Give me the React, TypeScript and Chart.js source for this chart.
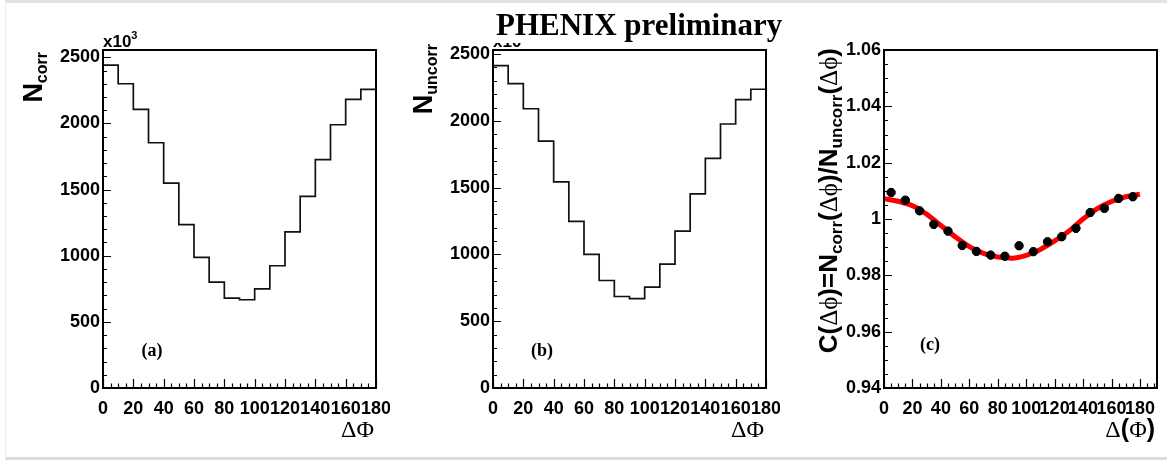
import React, { useEffect, useRef } from "react";
import { Chart, registerables } from "chart.js";
Chart.register(...registerables);

// ---------- data ----------
const binWidth = 10;
const nCorr = [2441, 2300, 2106, 1854, 1548, 1235, 987, 800, 679, 667, 750, 924, 1180, 1449, 1727, 1990, 2182, 2258];
const nUncorr = [2414, 2279, 2091, 1849, 1544, 1247, 1000, 805, 685, 670, 755, 927, 1175, 1454, 1720, 1977, 2159, 2237];

const ratioX = [5, 15, 25, 35, 45, 55, 65, 75, 85, 95, 105, 115, 125, 135, 145, 155, 165, 175];
const ratioY = [1.0094, 1.0067, 1.0029, 0.9981, 0.9957, 0.9906, 0.9885, 0.9872, 0.9868, 0.9905, 0.9884, 0.9919, 0.9937, 0.9967, 1.0023, 1.0038, 1.0073, 1.0079];
const ratioErr = [0.0012, 0.0012, 0.0012, 0.0012, 0.0012, 0.0012, 0.0012, 0.0012, 0.0012, 0.0012, 0.0012, 0.0012, 0.0012, 0.0012, 0.0012, 0.0012, 0.0012, 0.0012];

const fitX = [0, 10, 20, 30, 40, 50, 60, 70, 80, 90, 100, 110, 120, 130, 140, 150, 160, 170, 180];
const fitY = [1.0072, 1.0063, 1.0047, 1.0017, 0.9977, 0.9937, 0.9902, 0.9878, 0.9865, 0.9861, 0.9871, 0.9892, 0.9922, 0.9957, 1.0, 1.0037, 1.0062, 1.0079, 1.0088];

const histXTicks = [0, 20, 40, 60, 80, 100, 120, 140, 160, 180];
const histXTickLabels = ["0", "20", "40", "60", "80", "100", "120", "140", "160", "180"];
const histYTicks = [0, 500, 1000, 1500, 2000, 2500];
const histYTickLabels = ["0", "500", "1000", "1500", "2000", "2500"];
const ratioYTicks = [0.94, 0.96, 0.98, 1.0, 1.02, 1.04, 1.06];
const ratioYTickLabels = ["0.94", "0.96", "0.98", "1", "1.02", "1.04", "1.06"];

// ---------- helpers ----------
const B = (px: number) => `bold ${px}px "Liberation Sans", Arial, sans-serif`;
const S = (px: number) => `${px}px "Liberation Serif", "DejaVu Serif", "Times New Roman", serif`;
const SB = (px: number) => `bold ${px}px "Liberation Serif", "Times New Roman", serif`;

type Seg = { t: string; font: string; dy?: number };
function drawRich(ctx: CanvasRenderingContext2D, segs: Seg[], x: number, y: number, align: "left" | "right" | "center", rotate = false) {
  ctx.save();
  ctx.translate(x, y);
  if (rotate) ctx.rotate(-Math.PI / 2);
  const widths = segs.map((s) => {
    ctx.font = s.font;
    return ctx.measureText(s.t).width;
  });
  const total = widths.reduce((a, b) => a + b, 0);
  let cx = align === "right" ? -total : align === "center" ? -total / 2 : 0;
  ctx.textBaseline = "alphabetic";
  ctx.textAlign = "left";
  ctx.fillStyle = "#000";
  segs.forEach((s, i) => {
    ctx.font = s.font;
    ctx.fillText(s.t, cx, s.dy || 0);
    cx += widths[i];
  });
  ctx.restore();
}

type Deco = {
  xMajor: number;
  xMinor: number;
  yMajor: number;
  yMinor: number;
  yTitle: { segs: Seg[]; x: number; y: number };
  xTitle: { segs: Seg[]; x: number; y: number };
  label: { t: string; x: number; y: number };
  exponent?: boolean;
  errors?: { xs: number[]; ys: number[]; es: number[] };
};

function decoPlugin(d: Deco) {
  return {
    id: "deco",
    afterDraw(chart: any) {
      const ctx: CanvasRenderingContext2D = chart.ctx;
      const { left, right, top, bottom } = chart.chartArea;
      const xs = chart.scales.x;
      const ys = chart.scales.y;
      ctx.save();
      if (d.errors) {
        ctx.strokeStyle = "#000";
        ctx.lineWidth = 1.5;
        d.errors.xs.forEach((xv, i) => {
          const px = xs.getPixelForValue(xv);
          const y1 = ys.getPixelForValue(d.errors!.ys[i] - d.errors!.es[i]);
          const y2 = ys.getPixelForValue(d.errors!.ys[i] + d.errors!.es[i]);
          ctx.beginPath();
          ctx.moveTo(px, y1);
          ctx.lineTo(px, y2);
          ctx.moveTo(px - 2, y1);
          ctx.lineTo(px + 2, y1);
          ctx.moveTo(px - 2, y2);
          ctx.lineTo(px + 2, y2);
          ctx.stroke();
        });
      }
      ctx.strokeStyle = "#000";
      ctx.lineWidth = 1.2;
      ctx.beginPath();
      const eps = 1e-9;
      for (let v = xs.min; v <= xs.max + eps; v += d.xMinor) {
        const px = Math.round(xs.getPixelForValue(v)) + 0.5;
        const k = Math.abs(v / d.xMajor - Math.round(v / d.xMajor)) < 1e-6;
        const len = k ? 9 : 4.5;
        ctx.moveTo(px, bottom);
        ctx.lineTo(px, bottom - len);
      }
      for (let v = ys.min; v <= ys.max + eps; v += d.yMinor) {
        const py = Math.round(ys.getPixelForValue(v)) + 0.5;
        const k = Math.abs((v - ys.min) / d.yMajor - Math.round((v - ys.min) / d.yMajor)) < 1e-6;
        const len = k ? 8 : 4;
        ctx.moveTo(left, py);
        ctx.lineTo(left + len, py);
      }
      ctx.stroke();
      ctx.lineWidth = 2;
      ctx.strokeRect(left, top, right - left, bottom - top);
      drawRich(ctx, d.yTitle.segs, d.yTitle.x, d.yTitle.y, "right", true);
      drawRich(ctx, d.xTitle.segs, d.xTitle.x, d.xTitle.y, "right");
      drawRich(ctx, [{ t: d.label.t, font: SB(18) }], d.label.x, d.label.y, "center");
      if (d.exponent) {
        drawRich(ctx, [{ t: "x10", font: B(17) }, { t: "3", font: B(11), dy: -8 }], left, top - 3, "left");
      }
      ctx.restore();
    },
  };
}

const tickFont = { family: '"Liberation Sans", Arial, sans-serif', weight: "bold", size: 18 };

function fixX(s: any) {
  s.height = 72;
  s.paddingLeft = 0;
  s.paddingRight = 0;
}
function fixY(w: number) {
  return (s: any) => {
    s.width = w;
    s.paddingTop = 0;
    s.paddingBottom = 0;
  };
}

function histConfig(values: number[], yMax: number, deco: Deco): any {
  const pts = values.map((v, i) => ({ x: i * binWidth, y: v }));
  pts.push({ x: values.length * binWidth, y: values[values.length - 1] });
  return {
    type: "line",
    data: {
      datasets: [
        {
          data: pts,
          stepped: "before",
          borderColor: "#111",
          borderWidth: 1.7,
          pointRadius: 0,
          fill: false,
        },
      ],
    },
    options: {
      animation: false,
      responsive: false,
      events: [],
      layout: { padding: { top: 50, right: 14, left: 0, bottom: 0 }, autoPadding: false },
      plugins: { legend: { display: false }, tooltip: { enabled: false } },
      scales: {
        x: {
          type: "linear",
          min: 0,
          max: 180,
          grid: { display: false, drawTicks: false },
          border: { display: false },
          afterBuildTicks: (s: any) => {
            s.ticks = histXTicks.map((v) => ({ value: v }));
          },
          afterFit: fixX,
          ticks: {
            autoSkip: false,
            maxRotation: 0,
            minRotation: 0,
            padding: 10,
            color: "#000",
            font: tickFont,
            callback: (v: number) => histXTickLabels[histXTicks.indexOf(v)] ?? "",
          },
        },
        y: {
          type: "linear",
          min: 0,
          max: yMax,
          grid: { display: false, drawTicks: false },
          border: { display: false },
          afterBuildTicks: (s: any) => {
            s.ticks = histYTicks.map((v) => ({ value: v }));
          },
          afterFit: fixY(103),
          ticks: {
            autoSkip: false,
            padding: 3,
            color: "#000",
            font: tickFont,
            callback: (v: number) => histYTickLabels[histYTicks.indexOf(v)] ?? "",
          },
        },
      },
    },
    plugins: [decoPlugin(deco)],
  };
}

function ratioConfig(deco: Deco): any {
  return {
    type: "scatter",
    data: {
      datasets: [
        {
          type: "scatter",
          data: ratioX.map((x, i) => ({ x, y: ratioY[i] })),
          backgroundColor: "#000",
          borderColor: "#000",
          pointRadius: 4.2,
          pointStyle: "circle",
        },
        {
          type: "line",
          data: fitX.map((x, i) => ({ x, y: fitY[i] })),
          borderColor: "#ff0000",
          borderWidth: 5,
          pointRadius: 0,
          cubicInterpolationMode: "monotone",
          fill: false,
        },
      ],
    },
    options: {
      animation: false,
      responsive: false,
      events: [],
      layout: { padding: { top: 50, right: 10, left: 0, bottom: 0 }, autoPadding: false },
      plugins: { legend: { display: false }, tooltip: { enabled: false } },
      scales: {
        x: {
          type: "linear",
          min: 0,
          max: 192,
          grid: { display: false, drawTicks: false },
          border: { display: false },
          afterBuildTicks: (s: any) => {
            s.ticks = histXTicks.map((v) => ({ value: v }));
          },
          afterFit: fixX,
          ticks: {
            autoSkip: false,
            maxRotation: 0,
            minRotation: 0,
            padding: 10,
            color: "#000",
            font: tickFont,
            callback: (v: number) => histXTickLabels[histXTicks.indexOf(v)] ?? "",
          },
        },
        y: {
          type: "linear",
          min: 0.94,
          max: 1.06,
          grid: { display: false, drawTicks: false },
          border: { display: false },
          afterBuildTicks: (s: any) => {
            s.ticks = ratioYTicks.map((v) => ({ value: v }));
          },
          afterFit: fixY(104),
          ticks: {
            autoSkip: false,
            padding: 3,
            color: "#000",
            font: tickFont,
            callback: (v: number) => {
              const i = ratioYTicks.findIndex((t) => Math.abs(t - v) < 1e-9);
              return i >= 0 ? ratioYTickLabels[i] : "";
            },
          },
        },
      },
    },
    plugins: [decoPlugin(deco)],
  };
}

function ChartCanvas({ config, left, width }: { config: () => any; left: number; width: number }) {
  const ref = useRef<HTMLCanvasElement | null>(null);
  useEffect(() => {
    if (!ref.current) return;
    const chart = new Chart(ref.current, config());
    return () => chart.destroy();
  }, []);
  return (
    <canvas
      ref={ref}
      width={width}
      height={460}
      style={{ position: "absolute", left, top: 0, width, height: 460 }}
    />
  );
}

const dPhi: Seg[] = [{ t: "ΔΦ", font: S(24) }];
const dPhiParen: Seg[] = [
  { t: "Δ", font: S(24) },
  { t: "(", font: B(25) },
  { t: "Φ", font: S(24) },
  { t: ")", font: B(25) },
];
const cTitle: Seg[] = [
  { t: "C", font: B(26) },
  { t: "(", font: B(26) },
  { t: "Δϕ", font: S(25) },
  { t: ")", font: B(26) },
  { t: "=", font: B(26) },
  { t: "N", font: B(26) },
  { t: "corr", font: B(17), dy: 5 },
  { t: "(", font: B(26) },
  { t: "Δϕ", font: S(25) },
  { t: ")", font: B(26) },
  { t: "/", font: B(26) },
  { t: "N", font: B(26) },
  { t: "uncorr", font: B(17), dy: 5 },
  { t: "(", font: B(26) },
  { t: "Δϕ", font: S(25) },
  { t: ")", font: B(26) },
];

export default function App() {
  const decoA: Deco = {
    xMajor: 20, xMinor: 5, yMajor: 500, yMinor: 100,
    yTitle: { segs: [{ t: "N", font: B(27) }, { t: "corr", font: B(16), dy: 5 }], x: 42, y: 52 },
    xTitle: { segs: dPhi, x: 374, y: 437 },
    label: { t: "(a)", x: 152, y: 356 },
    exponent: true,
  };
  const decoB: Deco = {
    xMajor: 20, xMinor: 5, yMajor: 500, yMinor: 100,
    yTitle: { segs: [{ t: "N", font: B(27) }, { t: "uncorr", font: B(16), dy: 5 }], x: 42, y: 44 },
    xTitle: { segs: dPhi, x: 374, y: 437 },
    label: { t: "(b)", x: 152, y: 356 },
    exponent: true,
  };
  const decoC: Deco = {
    xMajor: 20, xMinor: 5, yMajor: 0.02, yMinor: 0.005,
    yTitle: { segs: cTitle, x: 57, y: 48 },
    xTitle: { segs: dPhiParen, x: 375, y: 437 },
    label: { t: "(c)", x: 150, y: 350 },
    errors: { xs: ratioX, ys: ratioY, es: ratioErr },
  };
  return (
    <div style={{ position: "absolute", left: 0, top: 0, width: 1167, height: 460, background: "#fff", overflow: "hidden" }}>
      <div
        style={{
          position: "absolute",
          left: 5,
          top: 0,
          width: 1162,
          height: 460,
          boxSizing: "border-box",
          borderTop: "3px solid #e2e2e2",
          borderLeft: "1px solid #ececec",
          borderBottom: "3px solid #dcdcdc",
        }}
      />
      <ChartCanvas left={0} width={390} config={() => histConfig(nCorr, 2555, decoA)} />
      <ChartCanvas left={390} width={390} config={() => histConfig(nUncorr, 2531, decoB)} />
      <ChartCanvas left={780} width={387} config={() => ratioConfig(decoC)} />
      <div
        style={{
          position: "absolute",
          left: 486,
          top: 10,
          width: 300,
          height: 33,
          background: "#fff",
          fontFamily: '"Liberation Serif", "Times New Roman", serif',
          fontWeight: "bold",
          fontSize: 31,
          lineHeight: "30px",
          paddingLeft: 10,
          boxSizing: "border-box",
          whiteSpace: "nowrap",
          color: "#000",
        }}
      >
        PHENIX preliminary
      </div>
    </div>
  );
}
